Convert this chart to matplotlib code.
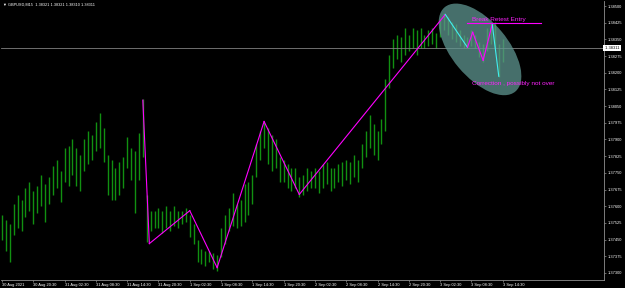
import numpy as np
import matplotlib
matplotlib.use('Agg')
from matplotlib import pyplot as plt
from matplotlib.patches import Ellipse
from matplotlib.transforms import ScaledTranslation

# GBPUSD M15 bars, one sample every 3 bars (high / low)
bar_step = 3
highs = [1.3756, 1.3754, 1.3752, 1.3761, 1.3765, 1.3763, 1.3768, 1.3771, 1.3767, 1.3769,
         1.3774, 1.3770, 1.3773, 1.3778, 1.3781, 1.3776, 1.3786, 1.3787, 1.3790, 1.3786,
         1.3783, 1.3790, 1.3794, 1.3792, 1.3798, 1.3802, 1.3795, 1.3783, 1.3781, 1.3777,
         1.3780, 1.3782, 1.3791, 1.3786, 1.3785, 1.3793, 1.3808, 1.3765, 1.3758, 1.3758,
         1.3759, 1.3758, 1.3760, 1.3758, 1.3760, 1.3758, 1.3758, 1.3759, 1.3756, 1.3752,
         1.3745, 1.3741, 1.3740, 1.3740, 1.3739, 1.3738, 1.3750, 1.3756, 1.3759, 1.3766,
         1.3761, 1.3763, 1.3770, 1.3771, 1.3774, 1.3788, 1.3794, 1.3798, 1.3795, 1.3792,
         1.3790, 1.3782, 1.3781, 1.3779, 1.3777, 1.3777, 1.3773, 1.3774, 1.3777, 1.3776,
         1.3777, 1.3776, 1.3779, 1.3780, 1.3777, 1.3777, 1.3779, 1.3780, 1.3781, 1.3780,
         1.3783, 1.3781, 1.3788, 1.3794, 1.3801, 1.3797, 1.3794, 1.3799, 1.3817, 1.3828,
         1.3835, 1.3837, 1.3836, 1.3840, 1.3837, 1.3840, 1.3839, 1.3840, 1.3837, 1.3839,
         1.3840, 1.3838, 1.3844, 1.3847, 1.3845, 1.3843, 1.3842, 1.3839, 1.3837, 1.3836,
         1.3839, 1.3837, 1.3834, 1.3833, 1.3840, 1.3841, 1.3843, 1.3833, 1.3835]
lows = [1.3745, 1.3740, 1.3735, 1.3747, 1.3750, 1.3749, 1.3755, 1.3758, 1.3752, 1.3757,
        1.3760, 1.3753, 1.3761, 1.3765, 1.3768, 1.3762, 1.3771, 1.3769, 1.3774, 1.3769,
        1.3767, 1.3776, 1.3779, 1.3781, 1.3785, 1.3786, 1.3780, 1.3765, 1.3763, 1.3763,
        1.3765, 1.3768, 1.3777, 1.3772, 1.3757, 1.3772, 1.3782, 1.3744, 1.3749, 1.3750,
        1.3750, 1.3748, 1.3750, 1.3749, 1.3751, 1.3750, 1.3752, 1.3753, 1.3746, 1.3743,
        1.3735, 1.3734, 1.3733, 1.3735, 1.3732, 1.3731, 1.3737, 1.3743, 1.3749, 1.3751,
        1.3750, 1.3751, 1.3753, 1.3756, 1.3761, 1.3773, 1.3781, 1.3786, 1.3779, 1.3776,
        1.3777, 1.3771, 1.3771, 1.3768, 1.3767, 1.3768, 1.3764, 1.3765, 1.3767, 1.3768,
        1.3768, 1.3766, 1.3768, 1.3770, 1.3767, 1.3768, 1.3771, 1.3769, 1.3772, 1.3770,
        1.3773, 1.3771, 1.3777, 1.3782, 1.3786, 1.3783, 1.3781, 1.3788, 1.3794, 1.3813,
        1.3822, 1.3826, 1.3825, 1.3828, 1.3830, 1.3831, 1.3828, 1.3831, 1.3831, 1.3832,
        1.3833, 1.3831, 1.3836, 1.3839, 1.3837, 1.3835, 1.3834, 1.3832, 1.3831, 1.3831,
        1.3832, 1.3831, 1.3827, 1.3825, 1.3830, 1.3833, 1.3831, 1.3818, 1.3825]

# hand drawn zigzag (bar index, price) and colour of each segment
zz_bars = [108, 113, 144, 165, 201, 228, 340, 357, 361, 369, 376, 381]
zz_prices = [1.38077, 1.37432, 1.37580, 1.37324, 1.37981, 1.37653, 1.38462,
             1.38314, 1.38382, 1.38256, 1.38418, 1.38184]
zz_colors = ['m'] * 6 + ['c', 'm', 'm', 'm', 'c']

retest_level = 1.38422
retest_bars = [357, 413]
last_price = 1.38311
header = "GBPUSD,M15  1.38321 1.38321 1.38310 1.38311"

time_labels = ["30 Aug 2021", "30 Aug 20:30", "31 Aug 02:30", "31 Aug 08:30", "31 Aug 14:30",
               "31 Aug 20:30", "1 Sep 02:30", "1 Sep 08:30", "1 Sep 14:30", "1 Sep 20:30",
               "2 Sep 02:30", "2 Sep 08:30", "2 Sep 14:30", "2 Sep 20:30", "3 Sep 02:30",
               "3 Sep 08:30", "3 Sep 14:30"]
time_ticks = np.arange(len(time_labels)) * 24
price_ticks = np.arange(1.37300, 1.38501, 0.00075)

W, H = 625, 288
fig = plt.figure(figsize=(W / 100, H / 100), dpi=100, facecolor='black')
ax = fig.add_axes([1 / W, 8 / H, 603 / W, 279 / H], facecolor='black')

x = np.arange(len(highs)) * bar_step
ax.vlines(x, lows, highs, color='#119011', lw=1.0)

# shaded ellipse around the correction
cx, cy = 366.6, 1.38305
ell = Ellipse((0, 0), 1.10, 0.56, angle=-50, facecolor='#5f9590', edgecolor='none', alpha=0.75,
              transform=fig.dpi_scale_trans + ScaledTranslation(cx, cy, ax.transData), zorder=3)
ax.add_patch(ell)

ax.axhline(last_price, color='#808080', lw=0.6, zorder=2)

cmap = {'m': '#ff00ff', 'c': '#40f0f0'}
for k in range(len(zz_bars) - 1):
    ax.plot(zz_bars[k:k + 2], zz_prices[k:k + 2], color=cmap[zz_colors[k]], lw=0.8, zorder=4)

ax.plot(retest_bars, [retest_level] * 2, color='#ff00ff', lw=0.8, zorder=4)
ax.text(360.4, 1.38440, "Break Retest Entry", color='#ff22ff', fontsize=4.6,
        family='Liberation Sans', va='center', ha='left', zorder=5)
ax.text(360.4, 1.38152, "Correction , possibly not over", color='#ff22ff', fontsize=4.6,
        family='Liberation Sans', va='center', ha='left', zorder=5)

ax.set_xlim(-0.77, 461.7)
ax.set_ylim(1.372685, 1.385225)

ax.yaxis.tick_right()
ax.set_yticks(price_ticks)
ax.set_yticklabels(["%.5f" % p for p in price_ticks])
ax.set_xticks(time_ticks)
ax.set_xticklabels(time_labels, ha='left')
ax.tick_params(colors='#909090', length=1.5, width=0.5, labelsize=2.9, pad=1)
for lab in ax.get_xticklabels() + ax.get_yticklabels():
    lab.set_color('white')
    lab.set_family('Liberation Sans')

for side in ['left', 'top']:
    ax.spines[side].set_visible(False)
for side in ['right', 'bottom']:
    ax.spines[side].set_color('#909090')
    ax.spines[side].set_linewidth(0.6)

ax.text(1.0, last_price, " %.5f " % last_price, transform=ax.get_yaxis_transform(),
        fontsize=2.9, family='Liberation Sans', color='black', va='center', ha='left',
        bbox=dict(facecolor='white', edgecolor='none', pad=0.4), zorder=6, clip_on=False)

fig.text(3 / W, 1 - 5 / H, "\u25bc " + header, color='white', fontsize=2.8,
         family=['Liberation Sans', 'DejaVu Sans'], va='center', ha='left')

fig.savefig('out.png', dpi=100, facecolor='black')
